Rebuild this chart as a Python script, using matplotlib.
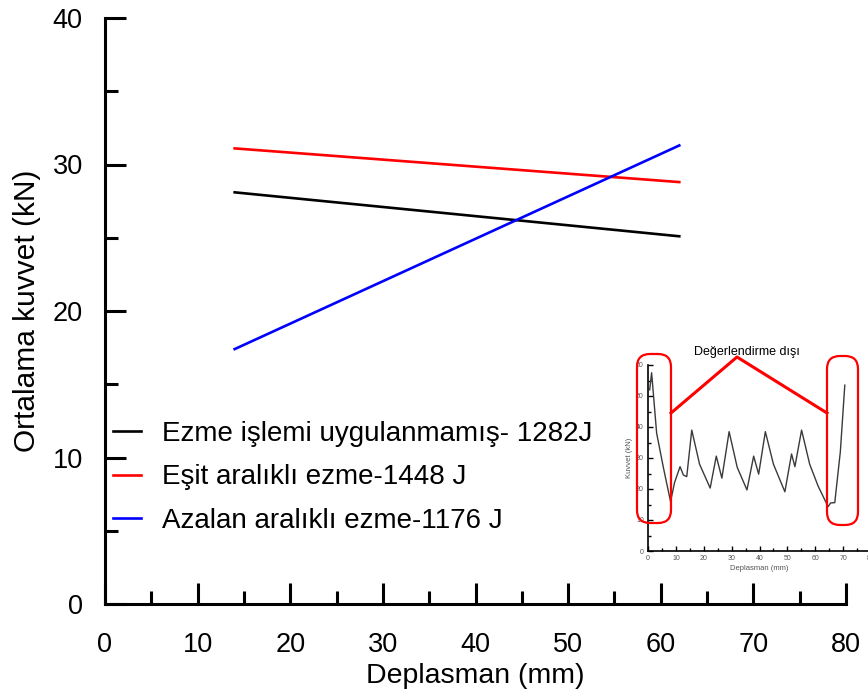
import matplotlib.pyplot as plt
import numpy as np
from matplotlib.patches import FancyBboxPatch
from matplotlib.lines import Line2D

plt.rcParams['font.family'] = ['Liberation Sans', 'DejaVu Sans']

# average force lines (start / end of evaluated range)
disp = [14, 62]
f_plain = [28.1, 25.1]
f_equal = [31.1, 28.8]
f_decr = [17.4, 31.3]
labels = ['Ezme işlemi uygulanmamış- 1282J',
          'Eşit aralıklı ezme-1448 J',
          'Azalan aralıklı ezme-1176 J']
colors = ['black', 'red', 'blue']

# sample force-displacement curve for the inset
ins_x = [0.6, 1.3, 3.1, 5.5, 8.1, 9.5, 11.5, 12.7, 13.9, 15.7, 18.5, 22.3, 24.5, 26.5,
         29.1, 32.0, 35.5, 37.9, 39.7, 42.1, 45.0, 49.1, 51.5, 52.7, 55.1, 58.0, 61.0,
         64.6, 65.5, 67.0, 69.0, 70.6]
ins_y = [52, 57.5, 38, 27, 15.9, 22, 27.2, 24.5, 24, 39, 28, 20.3, 30.6, 23.5,
         38.5, 27, 19.7, 30.6, 24.8, 38.5, 28, 19.1, 31.3, 27.2, 39, 28, 21,
         14.3, 15.5, 15.6, 32, 53.5]

W, H = 868, 698
fig = plt.figure(figsize=(W / 100, H / 100), dpi=100)

def px(x0, y0, w, h):
    # pixel box (top-left origin) -> figure fraction rect
    return [x0 / W, 1 - (y0 + h) / H, w / W, h / H]

ax = fig.add_axes(px(105, 18, 741, 586))
for y, c, lab in zip([f_plain, f_equal, f_decr], colors, labels):
    ax.plot(disp, y, color=c, lw=1.9, label=lab)

ax.set_xlim(0, 80)
ax.set_ylim(0, 40)
ax.set_xticks(np.arange(0, 81, 10))
ax.set_xticks(np.arange(5, 80, 10), minor=True)
ax.set_yticks(np.arange(0, 41, 10))
ax.set_yticks(np.arange(5, 40, 10), minor=True)
for s in ['top', 'right']:
    ax.spines[s].set_visible(False)
for s in ['left', 'bottom']:
    ax.spines[s].set_linewidth(2.2)
ax.tick_params(which='major', direction='in', length=15, width=2.2, labelsize=19.5)
ax.tick_params(which='minor', direction='in', length=9.5, width=2.2)
ax.tick_params(axis='y', which='major', pad=16)
ax.tick_params(axis='x', which='major', pad=20)
ax.set_xlabel('Deplasman (mm)', fontsize=20.5, labelpad=4)
ax.set_ylabel('Ortalama kuvvet (kN)', fontsize=21.5, labelpad=8)

ax.legend(loc='upper left', bbox_to_anchor=(113 / W, 1 - 421 / H),
          bbox_transform=fig.transFigure, frameon=False, fontsize=20,
          handlelength=1.0, handletextpad=0.75, labelspacing=0.63,
          borderaxespad=0, borderpad=0)

# inset with the raw curve
ins = fig.add_axes(px(648, 365, 223, 186))
ins.plot(ins_x, ins_y, color='#3a3a3a', lw=1.0)
ins.set_xlim(0, 80)
ins.set_ylim(0, 60)
ins.set_xticks(np.arange(0, 81, 10))
ins.set_xticks(np.arange(5, 80, 10), minor=True)
ins.set_yticks(np.arange(0, 61, 10))
ins.set_yticks(np.arange(5, 60, 5), minor=True)
for s in ['top', 'right']:
    ins.spines[s].set_visible(False)
for s in ['left', 'bottom']:
    ins.spines[s].set_linewidth(1.2)
ins.tick_params(which='major', direction='in', length=3.5, width=1.0,
                labelsize=5, labelcolor='#555555', pad=3)
ins.tick_params(which='minor', direction='in', length=2.5, width=1.0)
ins.set_xlabel('Deplasman (mm)', fontsize=5.5, color='#555555', labelpad=2)
ins.set_ylabel('Kuvvet (kN)', fontsize=5.5, color='#555555', labelpad=2)
ins.patch.set_alpha(0)

# excluded regions marked in red
tr = fig.dpi_scale_trans
def inch(x, y):
    return x / 100, (H - y) / 100

for (x0, y0, x1, y1) in [(637, 354, 671, 523), (827, 356, 858, 525)]:
    bx, by = inch(x0, y1)
    box = FancyBboxPatch((bx, by), (x1 - x0) / 100, (y1 - y0) / 100,
                         boxstyle='round,pad=0,rounding_size=0.13',
                         transform=tr, fill=False, ec='red', lw=1.6)
    fig.add_artist(box)

lx, ly = zip(inch(671, 413), inch(737, 357), inch(827, 413))
fig.add_artist(Line2D(lx, ly, transform=tr, color='red', lw=2.2))
tx, ty = inch(747, 352)
fig.text(tx, ty, 'Değerlendirme dışı', transform=tr, fontsize=9,
         ha='center', va='center')

fig.savefig('out.png', dpi=100)
